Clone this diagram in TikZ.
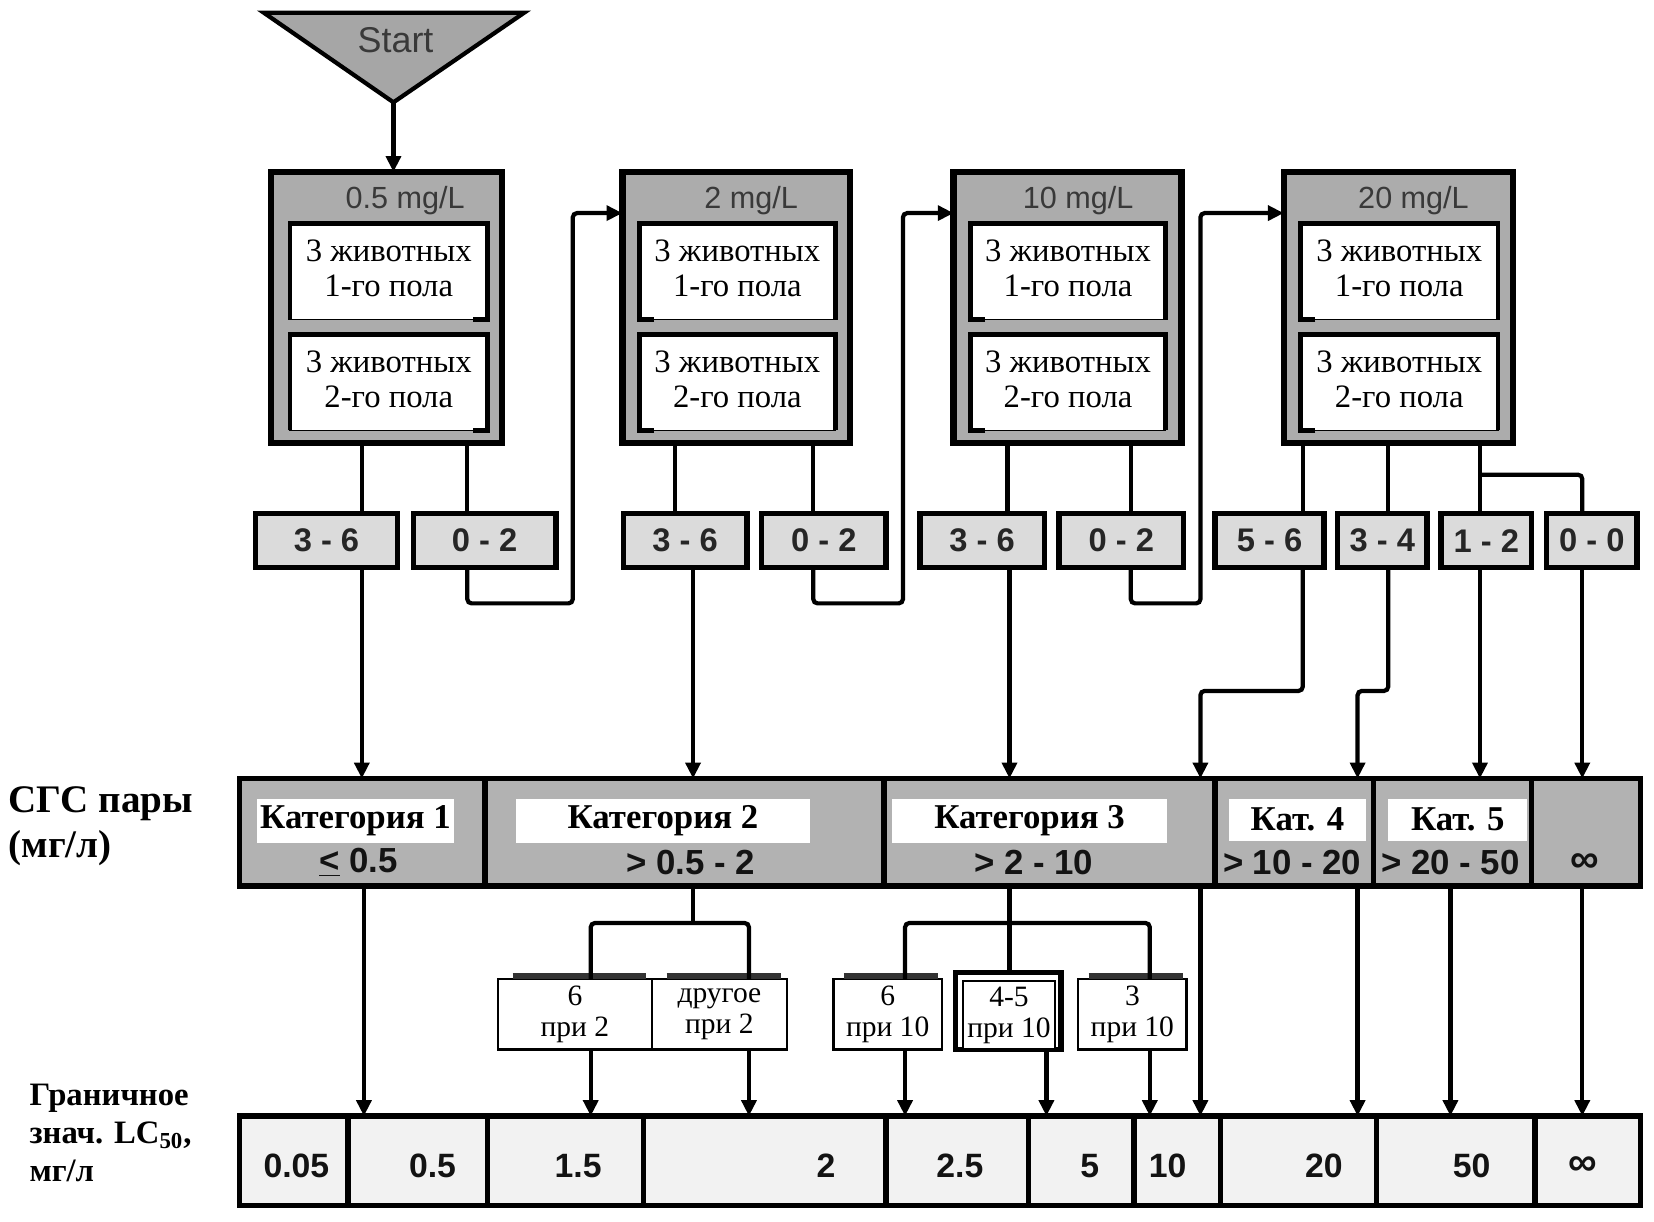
\documentclass[tikz,border=0pt]{standalone}
\usepackage{fontspec}
\setmainfont{Liberation Serif}
\setsansfont{Liberation Sans}
\usetikzlibrary{arrows.meta,fit,calc}
\newcommand\inbox[7]{%
  \node[innerbox, fit={(#2,#3) (#4,#5)}] (#1) {};
  \node[innertxt] at ($(#1)+(0,-3)$) {#6};
  \ifnum#7=1
    \draw[brk] (#1.south west) -- (#1.north west) -- (#1.north east) -- (#1.south east) -- ++(-14,0);
  \else
    \draw[brk] (#1.south west) ++(14,0) -- (#1.south west) -- (#1.north west) -- (#1.north east) -- (#1.south east);
  \fi}
\begin{document}
\begin{tikzpicture}[x=0.5pt,y=-0.5pt,
  every node/.style={inner sep=0pt, outer sep=0pt},
  outerbox/.style={draw, line width=3pt, fill=gray!65},
  innerbox/.style={fill=white, draw, line width=0.6pt},
  brk/.style={line width=2.2pt},
  innertxt/.style={font=\fontsize{15.5}{16.5}\selectfont, align=center},
  mgl/.style={font=\sffamily\fontsize{14.5}{16}\selectfont, text=gray!45!black},
  res/.style={draw, line width=2.6pt, fill=gray!28},
  restxt/.style={text=black!85, font=\sffamily\bfseries\fontsize{15.5}{17}\selectfont},
  cat/.style={draw, line width=2.6pt, fill=gray!60},
  catlab/.style={fill=white},
  cattxt/.style={font=\bfseries\fontsize{16.5}{18}\selectfont},
  catval/.style={font=\sffamily\bfseries\fontsize{16.5}{18}\selectfont, text=gray!15!black},
  lc/.style={draw, line width=2.6pt, fill=gray!10},
  lctxt/.style={font=\sffamily\bfseries\fontsize{16}{18}\selectfont, text=gray!15!black},
  smallbox/.style={draw, line width=1.2pt, fill=white},
  smalltxt/.style={align=center, font=\fontsize{14}{15}\selectfont},
  tab/.style={line width=3pt, draw=gray!40!black},
  ln/.style={line width=2pt, rounded corners=2pt},
  arr/.style={ln, -{Triangle[length=7.5pt,width=7pt]}},
  side/.style={font=\bfseries\fontsize{18.5}{21.5}\selectfont, align=left, anchor=west},
  side2/.style={font=\bfseries\fontsize{15.5}{18}\selectfont, align=left, anchor=west},
]
\fill[white] (0,0) rectangle (1568,1158);
\useasboundingbox (0,0) rectangle (1568,1158);

% Start
\filldraw[fill=gray!70, line width=2pt] (250,12) -- (497,12) -- (373,97) -- cycle;
\node[font=\sffamily\fontsize{17}{19}\selectfont, text=gray!45!black] (start) at (375,38) {Start};
\coordinate (apex) at (373,97);

% outer boxes
\node[outerbox, fit={(257,163) (476,420)}] (b1) {};
\node[outerbox, fit={(590,163) (806,420)}] (b2) {};
\node[outerbox, fit={(904,163) (1120,420)}] (b3) {};
\node[outerbox, fit={(1217,163) (1434,420)}] (b4) {};
\node[mgl] (t1) at (384,190) {0.5 mg/L};
\node[mgl] (t2) at (712,190) {2 mg/L};
\node[mgl] (t3) at (1022,190) {10 mg/L};
\node[mgl] (t4) at (1340,190) {20 mg/L};

\inbox{b1a}{275}{212}{462}{303}{3 животных\\1-го пола}{1}
\inbox{b1b}{275}{317}{462}{408}{3 животных\\2-го пола}{1}
\inbox{b2a}{606}{212}{792}{303}{3 животных\\1-го пола}{2}
\inbox{b2b}{606}{317}{792}{408}{3 животных\\2-го пола}{2}
\inbox{b3a}{920}{212}{1105}{303}{3 животных\\1-го пола}{2}
\inbox{b3b}{920}{317}{1105}{408}{3 животных\\2-го пола}{2}
\inbox{b4a}{1233}{212}{1420}{303}{3 животных\\1-го пола}{2}
\inbox{b4b}{1233}{317}{1420}{408}{3 животных\\2-го пола}{2}

% result boxes
\node[res, fit={(242,487) (377,538)}] (r1) {};
\node[res, fit={(392,487) (527,538)}] (r2) {};
\node[res, fit={(591,487) (708,538)}] (r3) {};
\node[res, fit={(722,487) (840,538)}] (r4) {};
\node[res, fit={(872,487) (990,538)}] (r5) {};
\node[res, fit={(1004,487) (1122,538)}] (r6) {};
\node[res, fit={(1152,487) (1255,538)}] (r7) {};
\node[res, fit={(1268,487) (1353,538)}] (r8) {};
\node[res, fit={(1366,487) (1452,538)}] (r9) {};
\node[res, fit={(1466,487) (1552,538)}] (r10) {};
\node[restxt] at (r1) {3 - 6};
\node[restxt] at (r2) {0 - 2};
\node[restxt] at (r3) {3 - 6};
\node[restxt] at (r4) {0 - 2};
\node[restxt] at (r5) {3 - 6};
\node[restxt] at (r6) {0 - 2};
\node[restxt] at (r7) {5 - 6};
\node[restxt] at (r8) {3 - 4};
\node[restxt] at (r9) {1 - 2};
\node[restxt] at (r10) {0 - 0};

% category row
\node[cat, fit={(227,738) (460,840)}] (c1) {};
\node[cat, fit={(460,738) (838,840)}] (c2) {};
\node[cat, fit={(838,738) (1152,840)}] (c3) {};
\node[cat, fit={(1152,738) (1302,840)}] (c4) {};
\node[cat, fit={(1302,738) (1452,840)}] (c5) {};
\node[cat, fit={(1452,738) (1555,840)}] (c6) {};
\node[catlab, fit={(244,757) (430,799)}] (c1l) {};
\node[catlab, fit={(489,757) (768,799)}] (c2l) {};
\node[catlab, fit={(846,757) (1106,799)}] (c3l) {};
\node[catlab, fit={(1165,757) (1295,797)}] (c4l) {};
\node[catlab, fit={(1316,757) (1448,797)}] (c5l) {};
\node[cattxt] at (c1l) {Категория 1};
\node[cattxt] at (c2l) {Категория 2};
\node[cattxt] at (c3l) {Категория 3};
\node[cattxt] at (c4l) {Кат. 4};
\node[cattxt] at (c5l) {Кат. 5};
\node[catval] (c1v) at (340,818) {\underline{<} 0.5};
\node[catval] (c2v) at (655,818) {> 0.5 - 2};
\node[catval] (c3v) at (980,818) {> 2 - 10};
\node[catval] (c4v) at (1225,818) {> 10 - 20};
\node[catval] (c5v) at (1375,818) {> 20 - 50};
\node[catval, font=\sffamily\bfseries\fontsize{19}{20}\selectfont] (c6v) at (1502,818) {∞};

\node[side] (sgs) at (8,783) {СГС пары\\(мг/л)};
\node[side2] (gran) at (28,1074) {Граничное\\знач. LC\textsubscript{50},\\мг/л};

% small boxes
\node[smallbox, fit={(472,928) (618,995)}] (p1) {};
\node[smallbox, fit={(618,928) (746,995)}] (p2) {};
\node[smallbox, fit={(790,928) (893,995)}] (q1) {};
\node[draw, line width=2.6pt, fill=white, fit={(906,922) (1006,995)}] (q2) {};
\node[smallbox, fit={(913,930) (1000,995)}] (q2i) {};
\node[smallbox, fit={(1022,928) (1125,995)}] (q3) {};
\node[smalltxt] at (p1) {6\\при 2};
\node[smalltxt] at (p2) {другое\\при 2};
\node[smalltxt] at (q1) {6\\при 10};
\node[smalltxt] at (q2i) {4-5\\при 10};
\node[smalltxt] at (q3) {3\\при 10};
\draw[tab] ([xshift=7pt,yshift=1.4pt]p1.north west) -- ([xshift=-3pt,yshift=1.4pt]p1.north east);
\draw[tab] ([xshift=7pt,yshift=1.4pt]p2.north west) -- ([xshift=-3pt,yshift=1.4pt]p2.north east);
\draw[tab] ([xshift=5pt,yshift=1.4pt]q1.north west) -- ([xshift=-2pt,yshift=1.4pt]q1.north east);
\draw[tab] ([xshift=5pt,yshift=1.4pt]q3.north west) -- ([xshift=-2pt,yshift=1.4pt]q3.north east);

% LC row
\node[lc, fit={(227,1058) (330,1143)}] (lc1) {};
\node[lc, fit={(330,1058) (462,1143)}] (lc2) {};
\node[lc, fit={(462,1058) (610,1143)}] (lc3) {};
\node[lc, fit={(610,1058) (840,1143)}] (lc4) {};
\node[lc, fit={(840,1058) (975,1143)}] (lc5) {};
\node[lc, fit={(975,1058) (1075,1143)}] (lc6) {};
\node[lc, fit={(1075,1058) (1157,1143)}] (lc7) {};
\node[lc, fit={(1157,1058) (1305,1143)}] (lc8) {};
\node[lc, fit={(1305,1058) (1455,1143)}] (lc9) {};
\node[lc, fit={(1455,1058) (1555,1143)}] (lc10) {};
\node[lctxt] at (281,1105) {0.05};
\node[lctxt] at (410,1105) {0.5};
\node[lctxt] at (548,1105) {1.5};
\node[lctxt] at (783,1105) {2};
\node[lctxt] at (910,1105) {2.5};
\node[lctxt] at (1033,1105) {5};
\node[lctxt] at (1107,1105) {10};
\node[lctxt] at (1255,1105) {20};
\node[lctxt] at (1395,1105) {50};
\node[lctxt, font=\sffamily\bfseries\fontsize{19}{20}\selectfont] at (1500,1105) {∞};

% connectors: start
\draw[arr] (apex) -- (apex |- b1.north);
% boxes to results
\draw[ln] (b1.south -| 343,0) -- (r1.north -| 343,0);
\draw[ln] (b1.south -| 443,0) -- (r2.north -| 443,0);
\draw[ln] (b2.south -| 640,0) -- (r3.north -| 640,0);
\draw[ln] (b2.south -| 771,0) -- (r4.north -| 771,0);
\draw[ln] (b3.south -| 955,0) -- (r5.north -| 955,0);
\draw[ln] (b3.south -| 1072,0) -- (r6.north -| 1072,0);
\draw[ln] (b4.south -| 1235,0) -- (r7.north -| 1235,0);
\draw[ln] (b4.south -| 1316,0) -- (r8.north -| 1316,0);
\draw[ln] (b4.south -| 1403,0) -- (r9.north -| 1403,0);
\draw[ln] (b4.south -| 1403,0) ++(0,30) -| (r10.north -| 1500,0);
% loops to next concentration
\draw[arr] (r2.south -| 443,0) -- ++(0,34) -| (543,202) -- (b2.west |- 0,202);
\draw[arr] (r4.south -| 771,0) -- ++(0,34) -| (856,202) -- (b3.west |- 0,202);
\draw[arr] (r6.south -| 1072,0) -- ++(0,34) -| (1138,202) -- (b4.west |- 0,202);
% results to categories
\draw[arr] (r1.south -| 343,0) -- (c1.north -| 343,0);
\draw[arr] (r3.south -| 657,0) -- (c2.north -| 657,0);
\draw[arr] (r5.south -| 957,0) -- (c3.north -| 957,0);
\draw[arr] (r7.south -| 1235,0) |- (1138,655) -- (c3.north -| 1138,0);
\draw[arr] (r8.south -| 1316,0) |- (1287,655) -- (c4.north -| 1287,0);
\draw[arr] (r9.south -| 1403,0) -- (c5.north -| 1403,0);
\draw[arr] (r10.south -| 1500,0) -- (c6.north -| 1500,0);
% categories to sub-boxes
\draw[ln] (c2.south -| 657,0) -- ++(0,35);
\draw[ln] (p1.north -| 560,0) -- ++(0,-53) -| (p2.north -| 710,0);
\draw[ln] (c3.south -| 957,0) -- (q2.north -| 957,0);
\draw[ln] (q1.north -| 858,0) -- ++(0,-53) -| (q3.north -| 1090,0);
% to LC row
\draw[arr] (c1.south -| 345,0) -- (lc2.north -| 345,0);
\draw[arr] (p1.south -| 560,0) -- (lc3.north -| 560,0);
\draw[arr] (p2.south -| 710,0) -- (lc4.north -| 710,0);
\draw[arr] (q1.south -| 858,0) -- (lc5.north -| 858,0);
\draw[arr] (q2.south -| 992,0) -- (lc6.north -| 992,0);
\draw[arr] (q3.south -| 1090,0) -- (lc7.north -| 1090,0);
\draw[arr] (c3.south -| 1138,0) -- (lc7.north -| 1138,0);
\draw[arr] (c4.south -| 1287,0) -- (lc8.north -| 1287,0);
\draw[arr] (c5.south -| 1375,0) -- (lc9.north -| 1375,0);
\draw[arr] (c6.south -| 1500,0) -- (lc10.north -| 1500,0);
\end{tikzpicture}
\end{document}
